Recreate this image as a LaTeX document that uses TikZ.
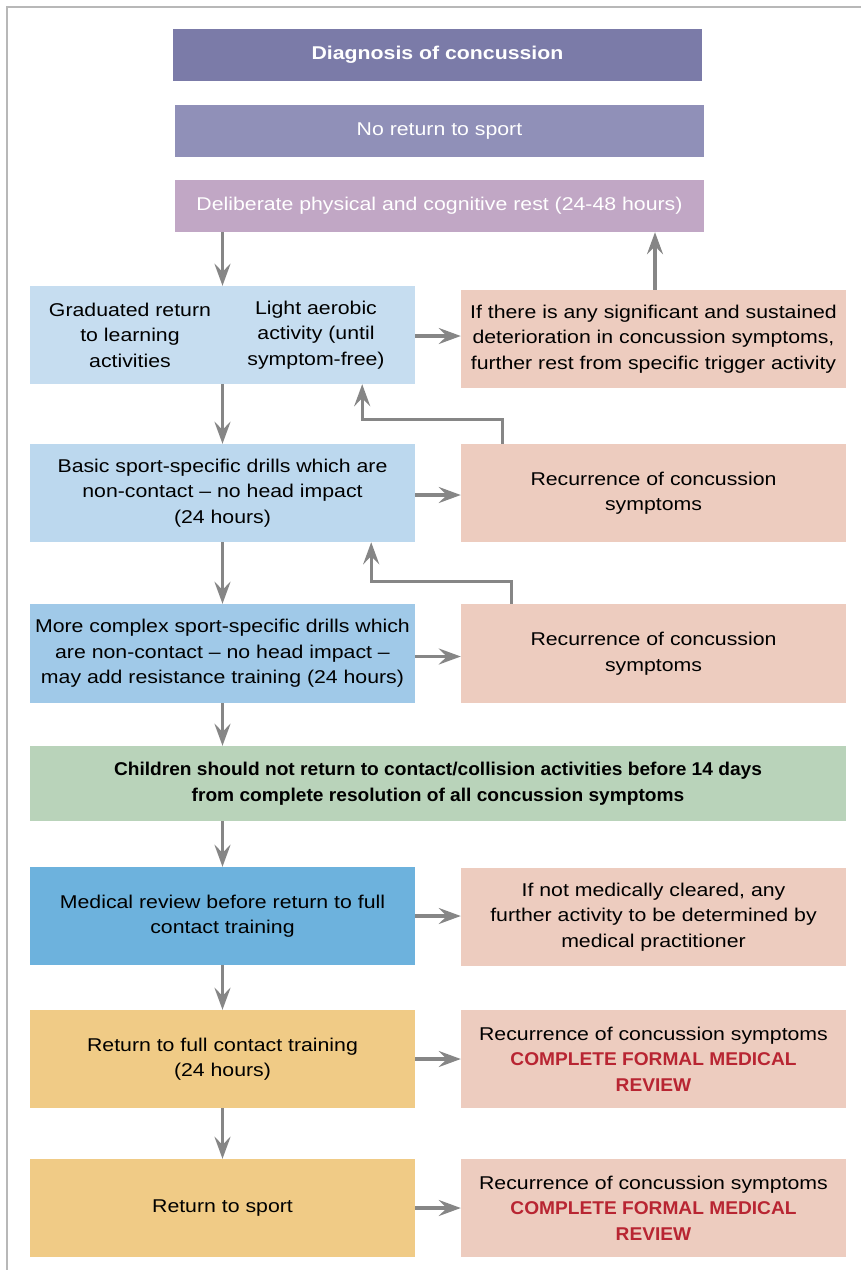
\documentclass[tikz,border=0pt]{standalone}
\usepackage{fontspec}
\setmainfont{Liberation Sans}[FakeStretch=1.15]
\newfontface\boldwide{Liberation Sans Bold}[FakeStretch=1.15]
\newfontface\boldnarrow{Liberation Sans Bold}[FakeStretch=1.035]
\usetikzlibrary{arrows.meta,calc}
\definecolor{cdiag}{HTML}{7B7BA8}
\definecolor{cnoret}{HTML}{9090B8}
\definecolor{crest}{HTML}{C1A7C5}
\definecolor{cblueA}{HTML}{C6DDF0}
\definecolor{cblueB}{HTML}{BCD8EE}
\definecolor{cblueC}{HTML}{A0C9E8}
\definecolor{csalmon}{HTML}{EDCCBF}
\definecolor{cgreen}{HTML}{B9D3BA}
\definecolor{cmed}{HTML}{6DB2DD}
\definecolor{cyellow}{HTML}{F0CB86}
\definecolor{cred}{HTML}{B82532}
\definecolor{carrow}{HTML}{868686}
\definecolor{cframe}{HTML}{B8B8B8}
\tikzset{
  box/.style={inner sep=0pt, align=center, font=\fontsize{18.5}{25.5}\selectfont},
  topbox/.style={box, minimum width=529pt, minimum height=52pt, text=white},
  leftbox/.style={box, minimum width=385pt, minimum height=98pt},
  rightbox/.style={box, minimum width=385pt, minimum height=98pt, fill=csalmon},
  txt/.style={inner sep=0pt, align=center, font=\fontsize{18.5}{25.5}\selectfont},
  arr/.style={draw=carrow, line width=3.2pt, -{Stealth[length=22pt,width=16pt,inset=8pt]}}
}
\newcommand{\redreview}{{\color{cred}\boldnarrow COMPLETE FORMAL MEDICAL}\\{\color{cred}\boldnarrow REVIEW}}
\begin{document}
\begin{tikzpicture}[x=1pt,y=-1pt]
\useasboundingbox (0,0) rectangle (861,1270);
\draw[cframe, line width=1.5pt] (7,1270) -- (7,7) -- (861,7);

\node[topbox, fill=cdiag] (d1) at (437.5,55) {\boldwide Diagnosis of concussion};
\node[topbox, fill=cnoret] (d2) at (439.5,131) {No return to sport};
\node[topbox, fill=crest] (d3) at (439.5,206) {Deliberate physical and cognitive rest (24-48 hours)};

\node[leftbox, fill=cblueA] (b1) at (222.5,335) {};
\node[txt] (b1a) at (130,335) {Graduated return\\to learning\\activities};
\node[txt] (b1b) at (316,335) {Light aerobic\\activity (until\\symptom-free)};
\node[rightbox] (s1) at (653.5,339) {If there is any significant and sustained\\deterioration in concussion symptoms,\\further rest from specific trigger activity};

\node[leftbox, fill=cblueB] (b2) at (222.5,493) {Basic sport-specific drills which are\\non-contact -- no head impact\\(24 hours)};
\node[rightbox] (s2) at (653.5,493) {Recurrence of concussion\\symptoms};

\node[leftbox, fill=cblueC, minimum height=99pt] (b3) at (222.5,653.5) {More complex sport-specific drills which\\are non-contact -- no head impact --\\may add resistance training (24 hours)};
\node[rightbox, minimum height=99pt] (s3) at (653.5,653.5) {Recurrence of concussion\\symptoms};

\node[box, fill=cgreen, minimum width=816pt, minimum height=75pt] (g) at (438,783.5) {\boldnarrow Children should not return to contact/collision activities before 14 days\\\boldnarrow from complete resolution of all concussion symptoms};

\node[leftbox, fill=cmed] (m) at (222.5,916) {Medical review before return to full\\contact training};
\node[rightbox] (s4) at (653.5,917) {If not medically cleared, any\\further activity to be determined by\\medical practitioner};

\node[leftbox, fill=cyellow] (y1) at (222.5,1059) {Return to full contact training\\(24 hours)};
\node[rightbox] (s5) at (653.5,1059) {Recurrence of concussion symptoms\\\redreview};

\node[leftbox, fill=cyellow] (y2) at (222.5,1208) {Return to sport};
\node[rightbox] (s6) at (653.5,1208) {Recurrence of concussion symptoms\\\redreview};

% vertical main flow
\draw[arr] (b1.north |- d3.south) -- (b1.north);
\draw[arr] (b1.south) -- (b2.north);
\draw[arr] (b2.south) -- (b3.north);
\draw[arr] (b3.south) -- (b3.south |- g.north);
\draw[arr] (b3.south |- g.south) -- (m.north);
\draw[arr] (m.south) -- (y1.north);
\draw[arr] (y1.south) -- (y2.north);

% horizontal arrows
\draw[arr] (b1.east) ++(0,1) -- ($(s1.west |- b1.east)+(0,1)$);
\draw[arr] (b2.east) ++(0,2) -- ($(s2.west |- b2.east)+(0,2)$);
\draw[arr] (b3.east) ++(0,3) -- ($(s3.west |- b3.east)+(0,3)$);
\draw[arr] (m.east) -- (m.east -| s4.west);
\draw[arr] (y1.east) -- (y1.east -| s5.west);
\draw[arr] (y2.east) -- (y2.east -| s6.west);

% feedback arrows
\draw[arr] ([xshift=1.5pt]s1.north) -- ([xshift=1.5pt]s1.north |- d3.south);
\coordinate (f1) at ($(s2.north west)+(42,0)$);
\coordinate (t1) at ($(b1.south east)+(-53,0)$);
\draw[arr] (f1) -- ++(0,-24) -| (t1);
\coordinate (f2) at ($(s3.north west)+(51,0)$);
\coordinate (t2) at ($(b2.south east)+(-44,0)$);
\draw[arr] (f2) -- ++(0,-22) -| (t2);
\end{tikzpicture}
\end{document}
